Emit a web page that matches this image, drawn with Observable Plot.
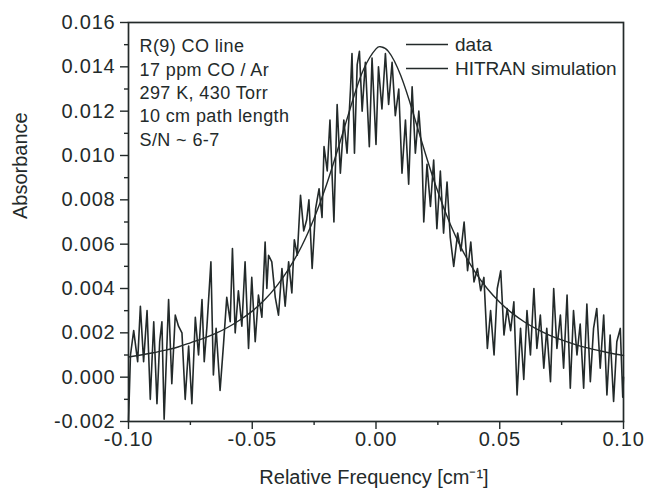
<!DOCTYPE html>
<html><head><meta charset="utf-8">
<script src="https://cdn.jsdelivr.net/npm/d3@7"></script>
<script src="https://cdn.jsdelivr.net/npm/@observablehq/plot@0.6"></script>
<style>
html,body{margin:0;padding:0;background:#fff;}
#chart{width:646px;height:495px;}
g[aria-label$="tick label"] text{letter-spacing:0.8px;}
g.anno text{letter-spacing:0.4px;}
</style></head><body><div id="chart"></div>
<script>
const dataFreq = [-0.1000,-0.0992,-0.0979,-0.0963,-0.0952,-0.0939,-0.0925,-0.0912,-0.0898,-0.0885,-0.0874,-0.0865,-0.0856,-0.0838,-0.0825,-0.0811,-0.0798,-0.0784,-0.0771,-0.0757,-0.0744,-0.0730,-0.0717,-0.0703,-0.0694,-0.0683,-0.0667,-0.0657,-0.0646,-0.0630,-0.0616,-0.0603,-0.0589,-0.0580,-0.0569,-0.0556,-0.0542,-0.0529,-0.0515,-0.0502,-0.0488,-0.0475,-0.0461,-0.0448,-0.0441,-0.0434,-0.0421,-0.0407,-0.0394,-0.0380,-0.0367,-0.0353,-0.0340,-0.0330,-0.0318,-0.0305,-0.0292,-0.0280,-0.0271,-0.0258,-0.0244,-0.0230,-0.0218,-0.0210,-0.0197,-0.0186,-0.0170,-0.0157,-0.0144,-0.0130,-0.0117,-0.0103,-0.0097,-0.0087,-0.0076,-0.0067,-0.0056,-0.0043,-0.0027,-0.0016,0.0000,0.0010,0.0024,0.0038,0.0051,0.0065,0.0078,0.0092,0.0105,0.0119,0.0132,0.0146,0.0159,0.0173,0.0186,0.0193,0.0206,0.0220,0.0233,0.0246,0.0260,0.0273,0.0287,0.0300,0.0314,0.0330,0.0343,0.0356,0.0370,0.0383,0.0396,0.0410,0.0423,0.0436,0.0450,0.0463,0.0477,0.0490,0.0504,0.0517,0.0530,0.0544,0.0557,0.0570,0.0584,0.0597,0.0610,0.0624,0.0638,0.0650,0.0664,0.0678,0.0690,0.0705,0.0718,0.0731,0.0745,0.0758,0.0772,0.0785,0.0798,0.0812,0.0825,0.0839,0.0852,0.0866,0.0879,0.0892,0.0906,0.0920,0.0933,0.0946,0.0960,0.0973,0.0987,0.0997,0.1000];
const dataAbs = [-0.0020,0.0010,0.0021,0.0007,0.0032,0.0007,0.0030,-0.0010,0.0025,-0.0012,0.0016,0.0025,-0.0019,0.0035,-0.0003,0.0028,0.0023,0.0020,-0.0010,0.0014,-0.0012,0.0027,0.0010,0.0035,0.0007,0.0023,0.0052,0.0001,0.0022,-0.0006,0.0015,0.0036,0.0025,0.0058,0.0020,0.0039,0.0023,0.0052,0.0013,0.0045,0.0016,0.0037,0.0027,0.0061,0.0040,0.0055,0.0052,0.0036,0.0028,0.0049,0.0032,0.0052,0.0038,0.0062,0.0055,0.0082,0.0066,0.0071,0.0080,0.0049,0.0076,0.0085,0.0072,0.0104,0.0093,0.0116,0.0070,0.0123,0.0092,0.0116,0.0101,0.0130,0.0146,0.0101,0.0141,0.0147,0.0120,0.0142,0.0104,0.0144,0.0105,0.0140,0.0121,0.0146,0.0123,0.0142,0.0118,0.0130,0.0092,0.0116,0.0087,0.0131,0.0101,0.0120,0.0100,0.0070,0.0096,0.0077,0.0098,0.0067,0.0093,0.0065,0.0088,0.0063,0.0050,0.0065,0.0057,0.0070,0.0048,0.0061,0.0043,0.0049,0.0039,0.0045,0.0013,0.0030,0.0010,0.0040,0.0048,0.0019,0.0031,0.0021,0.0034,-0.0008,0.0022,-0.0001,0.0030,0.0010,0.0040,0.0013,0.0028,0.0004,0.0022,-0.0002,0.0040,0.0013,0.0028,0.0004,0.0037,-0.0005,0.0030,0.0010,0.0024,-0.0005,0.0033,-0.0002,0.0022,0.0031,0.0004,0.0028,-0.0008,0.0019,-0.0011,0.0016,0.0022,-0.0009,0.0000];
const simFreq = [-0.100,-0.095,-0.090,-0.085,-0.080,-0.075,-0.070,-0.065,-0.060,-0.055,-0.050,-0.045,-0.040,-0.035,-0.030,-0.025,-0.020,-0.015,-0.010,-0.005,0.000,0.002,0.005,0.010,0.015,0.020,0.025,0.030,0.035,0.040,0.045,0.050,0.055,0.060,0.065,0.070,0.075,0.080,0.085,0.090,0.095,0.100];
const simAbs = [0.00091,0.00100,0.00110,0.00122,0.00136,0.00155,0.00174,0.00196,0.00224,0.00258,0.00298,0.00349,0.00413,0.00493,0.00592,0.00717,0.00868,0.01044,0.01228,0.01389,0.01481,0.01490,0.01470,0.01361,0.01192,0.01007,0.00836,0.00690,0.00571,0.00475,0.00399,0.00338,0.00289,0.00249,0.00217,0.00190,0.00168,0.00149,0.00133,0.00120,0.00108,0.00098];
const yTicks = [-0.002,0.000,0.002,0.004,0.006,0.008,0.010,0.012,0.014,0.016];
const yMinor = [-0.001,0.001,0.003,0.005,0.007,0.009,0.011,0.013,0.015];
const xTicks = [-0.10,-0.05,0.00,0.05,0.10];
const xMinor = [-0.075,-0.025,0.025,0.075];
const annotation = ["R(9) CO line","17 ppm CO / Ar","297 K, 430 Torr","10 cm path length","S/N ~ 6-7"];
const legendLabels = ["data","HITRAN simulation"];
const xTitle = "Relative Frequency [cm\u207B\u00B9]";
const yTitle = "Absorbance";

const ink = "#232a2a";
const font = "'Liberation Sans', Arial, Helvetica, sans-serif";
const dataRows = dataFreq.map((f, i) => ({f, a: dataAbs[i]}));
const simRows = simFreq.map((f, i) => ({f, a: simAbs[i]}));

const plot = Plot.plot({
  width: 646, height: 495,
  marginLeft: 128, marginRight: 23, marginTop: 22, marginBottom: 74,
  style: {fontFamily: font, fontSize: "20px", color: ink, background: "#fff", overflow: "visible"},
  x: {domain: [-0.1, 0.1]},
  y: {domain: [-0.002, 0.016]},
  marks: [
    Plot.axisY(yTicks, {tickSize: 8, tickPadding: 5, tickFormat: d => d.toFixed(3), label: null, fontSize: 20, strokeWidth: 1.4}),
    Plot.axisY(yMinor, {tickSize: 4, tickFormat: () => "", label: null, strokeWidth: 1.4}),
    Plot.axisX(xTicks, {tickSize: 8, tickPadding: 2, tickFormat: d => d.toFixed(2), label: null, fontSize: 20, strokeWidth: 1.4}),
    Plot.axisX(xMinor, {tickSize: 4, tickFormat: () => "", label: null, strokeWidth: 1.4}),
    Plot.line(simRows, {x: "f", y: "a", stroke: ink, strokeWidth: 1.4, curve: "natural"}),
    Plot.line(dataRows, {x: "f", y: "a", stroke: ink, strokeWidth: 1.6}),
    Plot.frame({stroke: ink, strokeWidth: 1.7}),
    Plot.text([annotation.join("\n")], {frameAnchor: "top-left", textAnchor: "start", lineAnchor: "top", dx: 11, dy: 13, fontSize: 18, lineHeight: 1.3, fill: ink, className: "anno"}),
    Plot.text([xTitle], {frameAnchor: "bottom", lineAnchor: "top", dx: -2, dy: 48, fontSize: 20, fill: ink}),
    Plot.text([yTitle], {frameAnchor: "left", rotate: -90, dx: -108, dy: -3, fontSize: 20, fill: ink})
  ]
});

const svg = d3.select(plot);
const xr = plot.scale("x").range;
const yr = plot.scale("y").range;
const frameRight = Math.max(...xr);
const frameTop = Math.min(...yr);
legendLabels.forEach((lab, i) => {
  const y = frameTop + 22.5 + i * 24;
  svg.append("line").attr("x1", frameRight - 217).attr("x2", frameRight - 175)
    .attr("y1", y).attr("y2", y).attr("stroke", ink).attr("stroke-width", 1.4);
  svg.append("text").attr("x", frameRight - 168).attr("y", y).attr("dy", "0.35em")
    .attr("text-anchor", "start").attr("font-size", 19).attr("fill", ink)
    .attr("font-family", font).text(lab);
});
document.getElementById("chart").appendChild(plot);
</script></body></html>
